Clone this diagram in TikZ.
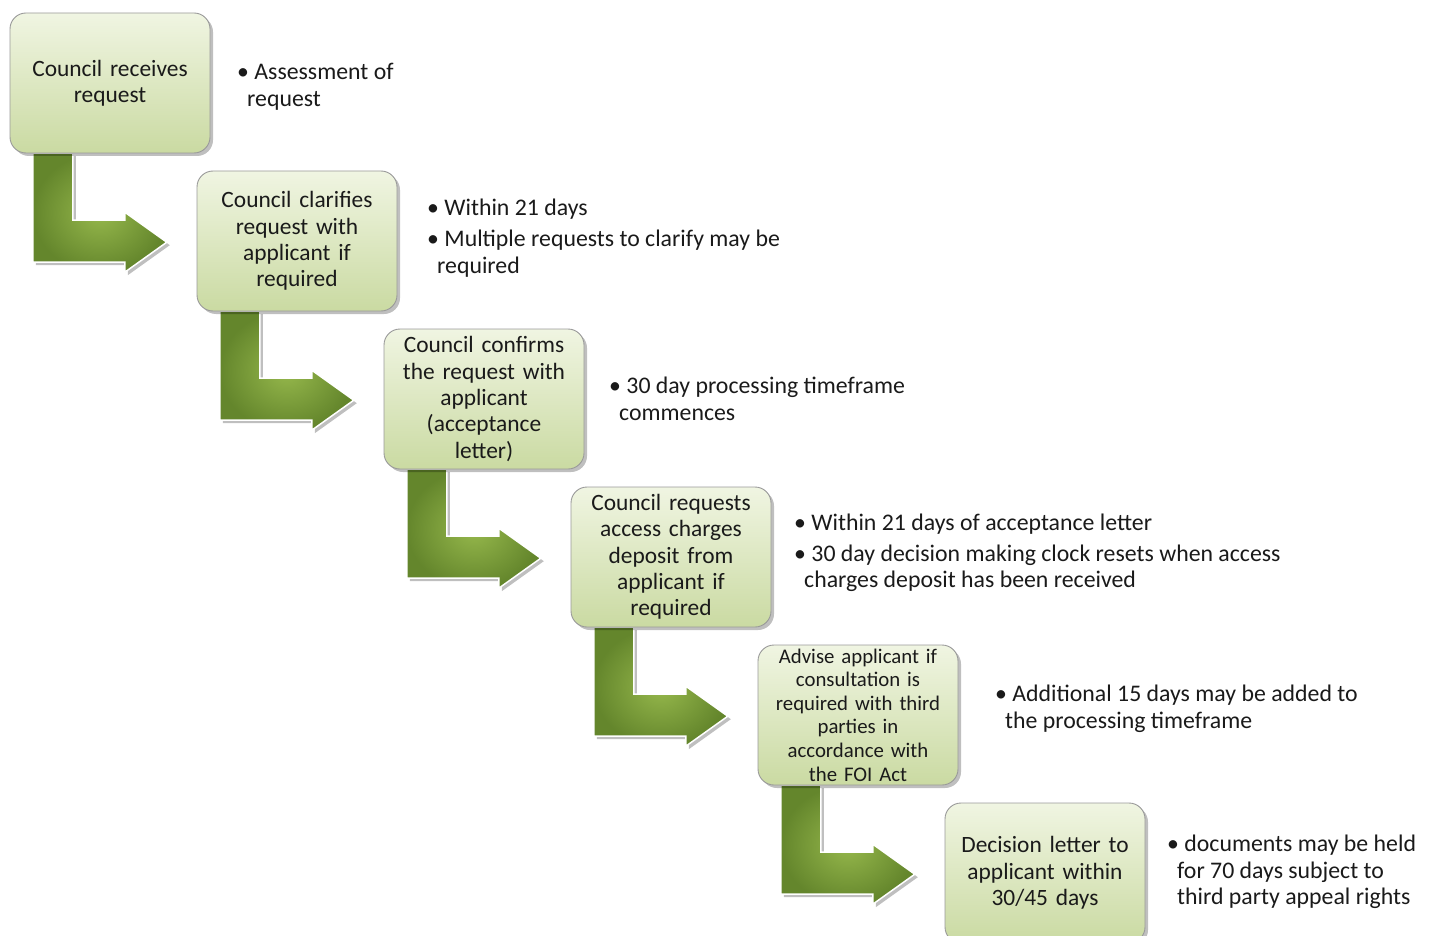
\documentclass[tikz,border=0pt]{standalone}
\usepackage{fontspec}
\setmainfont{Carlito}
\usetikzlibrary{calc,shadows}
\definecolor{boxtop}{HTML}{F0F5E2}
\definecolor{boxbot}{HTML}{CADAA2}
\definecolor{boxline}{HTML}{9A9A9A}
\definecolor{arrin}{HTML}{96B84C}
\definecolor{arrout}{HTML}{64862C}
\definecolor{txt}{HTML}{1A1A1A}
\tikzset{
  stepbox/.style={rectangle, rounded corners=16pt, draw=boxline, line width=0.9pt,
    top color=boxtop, bottom color=boxbot, minimum width=200pt, minimum height=140pt,
    text width=196pt, align=center, inner sep=0pt, text=txt,
    font=\fontsize{23.4}{26.3}\selectfont,
    drop shadow={shadow xshift=3pt, shadow yshift=-3pt, opacity=0.25, fill=black}},
  smallbox/.style={stepbox, font=\fontsize{20.8}{23.6}\selectfont},
  bullets/.style={anchor=west, align=left, inner sep=0pt, text=txt,
    font=\fontsize{23.8}{26.6}\selectfont},
  bentarrow/.style={draw=white, line width=1.5pt, inner color=arrin, outer color=arrout,
    drop shadow={shadow xshift=3pt, shadow yshift=-3pt, opacity=0.25, fill=black}}
}
\newcommand{\bentarrowfrom}[1]{%
  \path[bentarrow] ($(#1.south west)+(23,0)$) -- ($(#1.south west)+(63,0)$)
    -- ($(#1.south west)+(63,67)$) -- ($(#1.south west)+(115,67)$)
    -- ($(#1.south west)+(115,59)$) -- ($(#1.south west)+(157,89)$)
    -- ($(#1.south west)+(115,119)$) -- ($(#1.south west)+(115,109)$)
    -- ($(#1.south west)+(23,109)$) -- cycle;}
\begin{document}
\begin{tikzpicture}[x=1pt,y=-1pt]
\useasboundingbox[fill=white] (0,0) rectangle (1434,936);
% placeholders for box geometry so the arrows can be drawn below the boxes
\path (110,83) node[minimum width=200pt, minimum height=140pt, inner sep=0pt] (p1) {};
\path (297,241) node[minimum width=200pt, minimum height=140pt, inner sep=0pt] (p2) {};
\path (484,399) node[minimum width=200pt, minimum height=140pt, inner sep=0pt] (p3) {};
\path (671,557) node[minimum width=200pt, minimum height=140pt, inner sep=0pt] (p4) {};
\path (858,715) node[minimum width=200pt, minimum height=140pt, inner sep=0pt] (p5) {};
\bentarrowfrom{p1}
\bentarrowfrom{p2}
\bentarrowfrom{p3}
\bentarrowfrom{p4}
\bentarrowfrom{p5}
\node[stepbox] (b1) at (p1) {Council receives\\request};
\node[stepbox] (b2) at (p2) {Council clarifies\\request with\\applicant if\\required};
\node[stepbox] (b3) at (p3) {Council confirms\\the request with\\applicant\\(acceptance\\letter)};
\node[stepbox] (b4) at (p4) {Council requests\\access charges\\deposit from\\applicant if\\required};
\node[smallbox] (b5) at (p5) {Advise applicant if\\consultation is\\required with third\\parties in\\accordance with\\the FOI Act};
\node[stepbox] (b6) at (1045,873) {Decision letter to\\applicant within\\30/45 days};
\node[bullets] (t1) at (237,87) {• Assessment of\\\hspace*{10pt}request};
\node[bullets] (t2) at (427,238) {• Within 21 days\\[5pt]• Multiple requests to clarify may be\\\hspace*{10pt}required};
\node[bullets] (t3) at (609,399) {• 30 day processing timeframe\\\hspace*{10pt}commences};
\node[bullets] (t4) at (794,553) {• Within 21 days of acceptance letter\\[4pt]• 30 day decision making clock resets when access\\\hspace*{10pt}charges deposit has been received};
\node[bullets] (t5) at (995,709) {• Additional 15 days may be added to\\\hspace*{10pt}the processing timeframe};
\node[bullets] (t6) at (1167,872) {• documents may be held\\\hspace*{10pt}for 70 days subject to\\\hspace*{10pt}third party appeal rights};
\end{tikzpicture}
\end{document}
